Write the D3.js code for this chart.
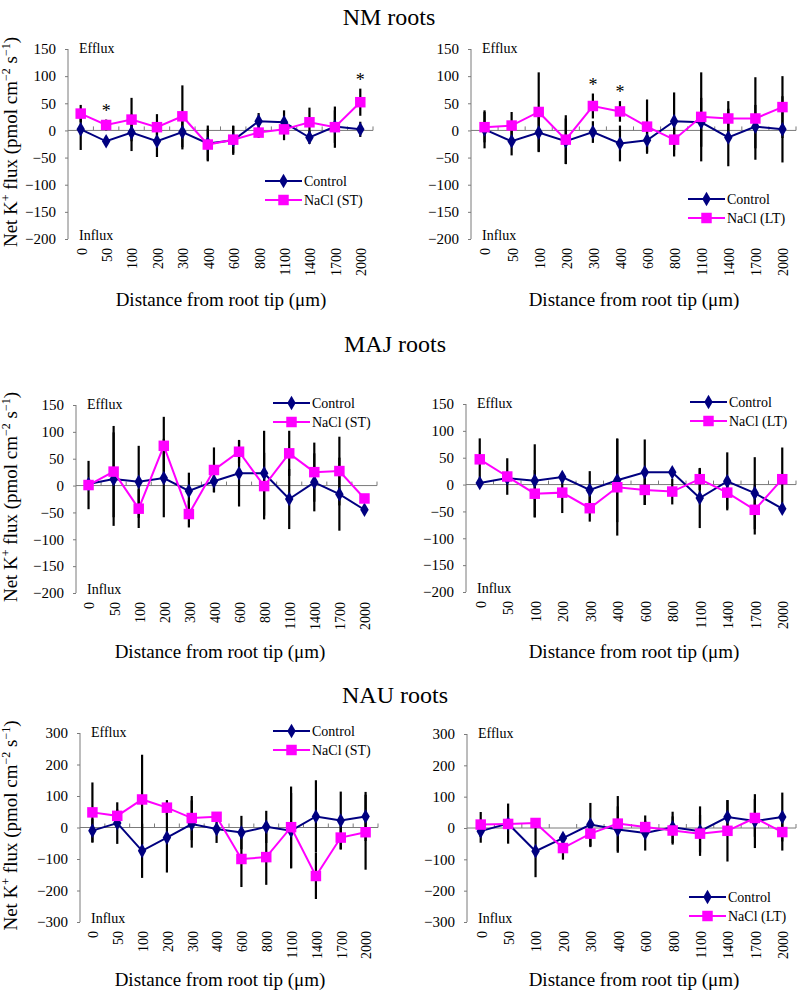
<!DOCTYPE html>
<html><head><meta charset="utf-8">
<script src="https://cdn.jsdelivr.net/npm/d3@7"></script>
<style>
body{margin:0;background:#fff}
text{font-family:"Liberation Serif","Times New Roman",serif;fill:#000}
</style>
</head><body>
<svg id="c" width="797" height="995"></svg>
<script>
// ---------------- DATA ----------------
const categories = ["0","50","100","200","300","400","600","800","1100","1400","1700","2000"];
const ticksSmall = [150,100,50,0,-50,-100,-150,-200];
const ticksLarge = [300,200,100,0,-100,-200,-300];

// NM roots
const nmControl      = [2,-20,-4,-20,-3,-24,-18,17,15,-13,7,2];
const nmControlErrST = [38,8,34,29,32,33,27,15,22,12,30,14];
const nmNaClST       = [31,10,20,6,26,-26,-17,-4,2,15,6,52];
const nmNaClSTErr    = [16,10,40,24,57,29,25,10,20,27,38,25];
const nmControlErrLT = [35,26,36,42,20,33,22,53,45,53,40,61];
const nmNaClLT       = [6,9,34,-17,45,35,7,-17,25,22,22,43];
const nmNaClLTErr    = [28,25,73,45,23,19,50,31,82,32,76,57];
const nmSigST = ["50","2000"];
const nmSigLT = ["300","400"];

// MAJ roots
const majControl      = [3,12,7,14,-10,8,23,23,-25,6,-16,-45];
const majControlErrST = [3,87,67,73,34,20,62,79,56,54,68,4];
const majNaClST       = [1,26,-43,74,-53,29,63,-1,60,25,27,-24];
const majNaClSTErr    = [45,85,36,54,25,42,21,62,42,55,64,4];
const majControlErrLT = [3,5,68,3,35,78,61,3,56,54,67,3];
const majNaClLT       = [47,15,-17,-15,-44,-5,-10,-13,10,-15,-47,10];
const majNaClLTErr    = [39,34,44,38,25,90,28,24,20,30,46,59];

// NAU roots
const nauControl      = [-10,14,-74,-32,11,-5,-16,2,-10,35,22,35];
const nauControlErrST = [38,66,86,111,75,44,53,51,120,115,92,78];
const nauNaClST       = [48,37,89,63,30,34,-100,-94,1,-154,-32,-15];
const nauNaClSTErr    = [95,20,142,24,70,10,89,88,129,73,37,119];
const nauControlErrLT = [37,64,83,15,69,74,56,50,79,54,86,78];
const nauNaClLT       = [11,13,16,-64,-18,14,3,-8,-18,-9,32,-13];
const nauNaClLTErr    = [40,10,10,37,43,88,20,45,60,98,60,59];

const titles = ["NM roots","MAJ roots","NAU roots"];
const xTitle = "Distance from root tip (\u03bcm)";

// ---------------- LAYOUT ----------------
const navy = "#000080", magenta = "#ff00ff", axisCol = "#7a7a7a";
const panels = [
 {ctrl:nmControl, ctrlErr:nmControlErrST, trt:nmNaClST, trtErr:nmNaClSTErr, name:"NaCl (ST)", ticks:ticksSmall, sig:nmSigST,
  x0:68, x1:373, y0:49, y1:239, leg:[265,181], ylab:true, xt:[221,306]},
 {ctrl:nmControl, ctrlErr:nmControlErrLT, trt:nmNaClLT, trtErr:nmNaClLTErr, name:"NaCl (LT)", ticks:ticksSmall, sig:nmSigLT,
  x0:471, x1:796, y0:49, y1:239, leg:[688,199], ylab:false, xt:[634,306]},
 {ctrl:majControl, ctrlErr:majControlErrST, trt:majNaClST, trtErr:majNaClSTErr, name:"NaCl (ST)", ticks:ticksSmall, sig:[],
  x0:76, x1:377, y0:405, y1:593, leg:[273,403], ylab:true, xt:[220,658]},
 {ctrl:majControl, ctrlErr:majControlErrLT, trt:majNaClLT, trtErr:majNaClLTErr, name:"NaCl (LT)", ticks:ticksSmall, sig:[],
  x0:466, x1:796, y0:404, y1:592, leg:[690,402], ylab:false, xt:[634,658]},
 {ctrl:nauControl, ctrlErr:nauControlErrST, trt:nauNaClST, trtErr:nauNaClSTErr, name:"NaCl (ST)", ticks:ticksLarge, sig:[],
  x0:80, x1:378, y0:733, y1:922, leg:[273,731], ylab:true, xt:[220,986]},
 {ctrl:nauControl, ctrlErr:nauControlErrLT, trt:nauNaClLT, trtErr:nauNaClLTErr, name:"NaCl (LT)", ticks:ticksLarge, sig:[],
  x0:467, x1:796, y0:734, y1:922, leg:[689,897], ylab:false, xt:[634,986]}
];
const titlePos = [[389,25],[395,352],[395,703]];

const svg = d3.select("#c");

titles.forEach((t,i)=>{
  svg.append("text").attr("x",titlePos[i][0]).attr("y",titlePos[i][1])
    .attr("text-anchor","middle").style("font-size","24px").text(t);
});

const diamond = d3.symbol().type(d3.symbolDiamond).size(62);
const square = d3.symbol().type(d3.symbolSquare).size(110);

panels.forEach(p=>{
  const g = svg.append("g");
  const x = d3.scaleBand().domain(categories).range([p.x0,p.x1]);
  const cx = c => x(c) + x.bandwidth()/2;
  const y = d3.scaleLinear().domain([d3.min(p.ticks), d3.max(p.ticks)]).range([p.y1,p.y0]);

  // y axis
  const yAxis = d3.axisLeft(y).tickValues(p.ticks).tickSize(3).tickPadding(9).tickFormat(d3.format("d"));
  const ya = g.append("g").attr("transform",`translate(${p.x0},0)`).call(yAxis);
  ya.select(".domain").attr("stroke",axisCol).attr("d",`M0,${p.y0}V${p.y1}`);
  ya.selectAll(".tick line").attr("stroke",axisCol);
  ya.selectAll(".tick text").style("font-size","15px").style("font-family",'"Liberation Serif",serif').attr("fill","#000");

  // zero line with ticks
  const z = y(0);
  g.append("line").attr("x1",p.x0).attr("x2",p.x1).attr("y1",z).attr("y2",z).attr("stroke",axisCol);
  categories.forEach(c=>{
    const xe = x(c) + x.bandwidth();
    g.append("line").attr("x1",xe).attr("x2",xe).attr("y1",z-4).attr("y2",z).attr("stroke",axisCol);
  });

  // x tick labels (rotated)
  categories.forEach(c=>{
    g.append("text").attr("transform",`translate(${cx(c)},${p.y1+9}) rotate(-90)`)
      .attr("text-anchor","end").attr("dy","0.42em").style("font-size","14px").text(c);
  });

  // Efflux / Influx
  g.append("text").attr("x",p.x0+11).attr("y",p.y0+4).style("font-size","14px").text("Efflux");
  g.append("text").attr("x",p.x0+11).attr("y",p.y1+1).style("font-size","14px").text("Influx");

  // x title
  g.append("text").attr("x",p.xt[0]).attr("y",p.xt[1]).attr("text-anchor","middle")
    .style("font-size","19px").text(xTitle);

  // y title
  if (p.ylab){
    const t = g.append("text").attr("transform",`translate(17,${(p.y0+p.y1)/2-2}) rotate(-90)`)
      .attr("text-anchor","middle").style("font-size","19px");
    t.append("tspan").text("Net K");
    t.append("tspan").attr("dy",-7).style("font-size","12px").text("+");
    t.append("tspan").attr("dy",7).text(" flux (pmol cm");
    t.append("tspan").attr("dy",-7).style("font-size","12px").text("\u22122");
    t.append("tspan").attr("dy",7).text(" s");
    t.append("tspan").attr("dy",-7).style("font-size","12px").text("\u22121");
    t.append("tspan").attr("dy",7).text(")");
  }

  // error bars
  const series = [
    {v:p.ctrl, e:p.ctrlErr, col:navy, sym:diamond},
    {v:p.trt, e:p.trtErr, col:magenta, sym:square}
  ];
  series.forEach(s=>{
    g.append("g").selectAll("line").data(categories).join("line")
      .attr("x1",c=>cx(c)).attr("x2",c=>cx(c))
      .attr("y1",(c,i)=>y(s.v[i]+s.e[i])).attr("y2",(c,i)=>y(s.v[i]-s.e[i]))
      .attr("stroke","#000").attr("stroke-width",2.2);
  });
  series.forEach(s=>{
    const line = d3.line().x((d,i)=>cx(categories[i])).y(d=>y(d));
    g.append("path").datum(s.v).attr("d",line).attr("fill","none").attr("stroke",s.col).attr("stroke-width",2);
    g.append("g").selectAll("path").data(s.v).join("path")
      .attr("transform",(d,i)=>`translate(${cx(categories[i])},${y(d)})`)
      .attr("d",s.sym()).attr("fill",s.col);
  });

  // significance asterisks
  p.sig.forEach(c=>{
    const i = categories.indexOf(c);
    const top = Math.max(p.ctrl[i]+p.ctrlErr[i], p.trt[i]+p.trtErr[i]);
    g.append("text").attr("x",cx(c)).attr("y",y(top)-3).attr("text-anchor","middle")
      .style("font-size","18px").text("*");
  });

  // legend
  const [lx,ly] = p.leg;
  const items = [{n:"Control",col:navy,sym:diamond},{n:p.name,col:magenta,sym:square}];
  items.forEach((it,k)=>{
    const yy = ly + k*19;
    g.append("line").attr("x1",lx).attr("x2",lx+37).attr("y1",yy).attr("y2",yy).attr("stroke",it.col).attr("stroke-width",2);
    g.append("path").attr("transform",`translate(${lx+18.5},${yy})`).attr("d",it.sym()).attr("fill",it.col);
    g.append("text").attr("x",lx+39).attr("y",yy).attr("dy","0.35em").style("font-size","14px").text(it.n);
  });
});
</script>
</body></html>
